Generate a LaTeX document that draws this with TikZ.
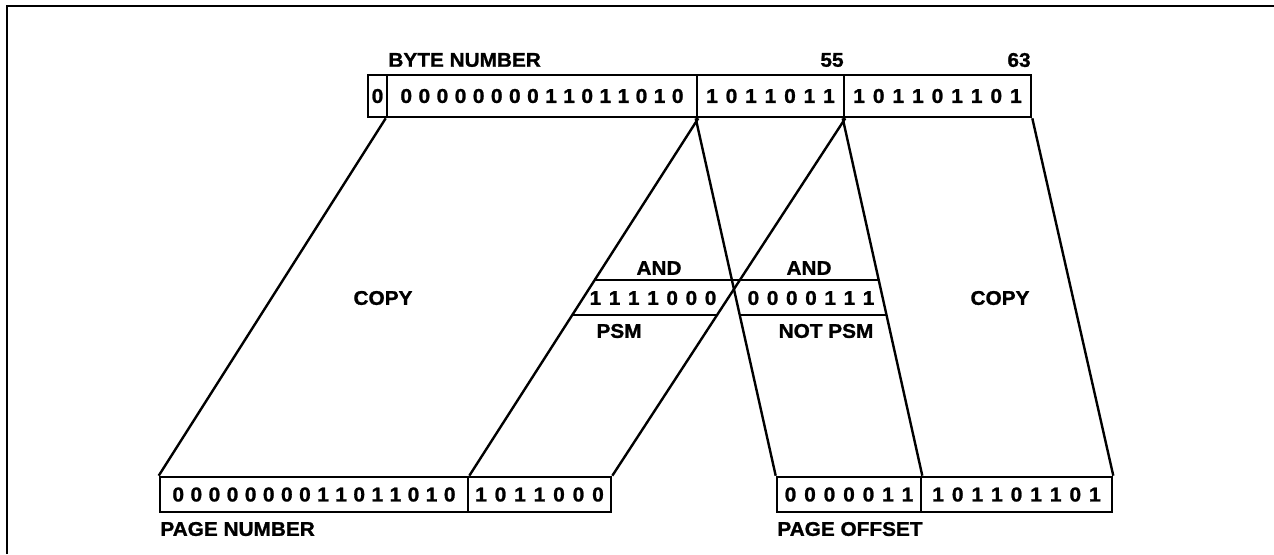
\documentclass[tikz,border=0pt]{standalone}
\usepackage{fontspec}
\setmainfont[FakeStretch=1.05,FakeBold=1.2]{Liberation Sans}
\usetikzlibrary{calc}
\makeatletter
\def\bt@pitch{10pt}
\def\bt@loop#1{\ifx#1\@nil\else\makebox[\bt@pitch]{#1}\expandafter\bt@loop\fi}
\newcommand\bitsp[2][10pt]{\def\bt@pitch{#1}\bt@loop#2\@nil}
\makeatother
\tikzset{
  cell/.style={draw, line width=1.3pt, inner sep=0pt, font=\bfseries\fontsize{10}{11}\selectfont},
  topcell/.style={cell, minimum height=21pt},
  botcell/.style={cell, minimum height=17.5pt},
  lbl/.style={inner sep=0pt, font=\bfseries\fontsize{9.9}{11}\selectfont},
  wire/.style={line width=1.2pt},
}
\begin{document}
\begin{tikzpicture}[x=0.5pt,y=-0.5pt]
\useasboundingbox (0,0) rectangle (1274,554);
\draw[line width=1.1pt] (7,554) -- (7,6) -- (1274,6);
% top register
\node[topcell, minimum width=9.5pt] (t0) at (377.5,96) {0};
\node[topcell, minimum width=155pt] (t1) at (542,96) {\bitsp[9.05pt]{0000000011011010}};
\node[topcell, minimum width=73.5pt] (t2) at (770.5,96) {\bitsp[9.75pt]{1011011}};
\node[topcell, minimum width=93.5pt] (t3) at (937.5,96) {\bitsp[9.8pt]{101101101}};
\node[lbl, anchor=west] (bn) at (388,60) {BYTE NUMBER};
\node[lbl, anchor=east] (n55) at (844,60) {55};
\node[lbl, anchor=east] (n63) at (1031,60) {63};
% bottom registers
\node[botcell, minimum width=154pt] (p1) at (314,494.5) {\bitsp[9.05pt]{0000000011011010}};
\node[botcell, minimum width=71.5pt] (p2) at (539.5,494.5) {\bitsp[9.75pt]{1011000}};
\node[botcell, minimum width=72pt] (o1) at (849,494.5) {\bitsp[9.75pt]{0000011}};
\node[botcell, minimum width=95.5pt] (o2) at (1016.5,494.5) {\bitsp[9.8pt]{101101101}};
\node[lbl, anchor=west] (pn) at (160,529) {PAGE NUMBER};
\node[lbl, anchor=west] (po) at (777,529) {PAGE OFFSET};
% wires
\draw[wire] (t1.south west) -- (p1.north west);
\draw[wire] (t1.south east) -- (p1.north east);
\draw[wire] (t2.south west) -- (o1.north west);
\draw[wire] (t2.south east) -- (p2.north east);
\draw[wire] (t3.south west) -- (o1.north east);
\draw[wire] (t3.south east) -- (o2.north east);
% mask lines
\coordinate (la1) at ($(t1.south east)!0.4528!(p1.north east)$);
\coordinate (lb1) at ($(t2.south east)!0.4528!(p2.north east)$);
\coordinate (la2) at ($(t1.south east)!0.55!(p1.north east)$);
\coordinate (lb2) at ($(t2.south east)!0.55!(p2.north east)$);
\coordinate (rc1) at ($(t2.south west)!0.4528!(o1.north west)$);
\coordinate (rd1) at ($(t3.south west)!0.4528!(o1.north east)$);
\coordinate (rc2) at ($(t2.south west)!0.55!(o1.north west)$);
\coordinate (rd2) at ($(t3.south west)!0.55!(o1.north east)$);
\draw[wire] (la1) -- (lb1);
\draw[wire] (la2) -- (lb2);
\draw[wire] (rc1) -- (rd1);
\draw[wire] (rc2) -- (rd2);
% mask texts
\node[lbl] (and1) at (659,268) {AND};
\node[lbl] (psm) at (653,298) {\bitsp[9.6pt]{1111000}};
\node[lbl] (psml) at (619,331) {PSM};
\node[lbl] (and2) at (809,268) {AND};
\node[lbl] (npsm) at (811,298) {\bitsp[9.6pt]{0000111}};
\node[lbl] (npsml) at (826,331) {NOT PSM};
\node[lbl] (copy1) at (383,298) {COPY};
\node[lbl] (copy2) at (1000,298) {COPY};
\end{tikzpicture}
\end{document}
